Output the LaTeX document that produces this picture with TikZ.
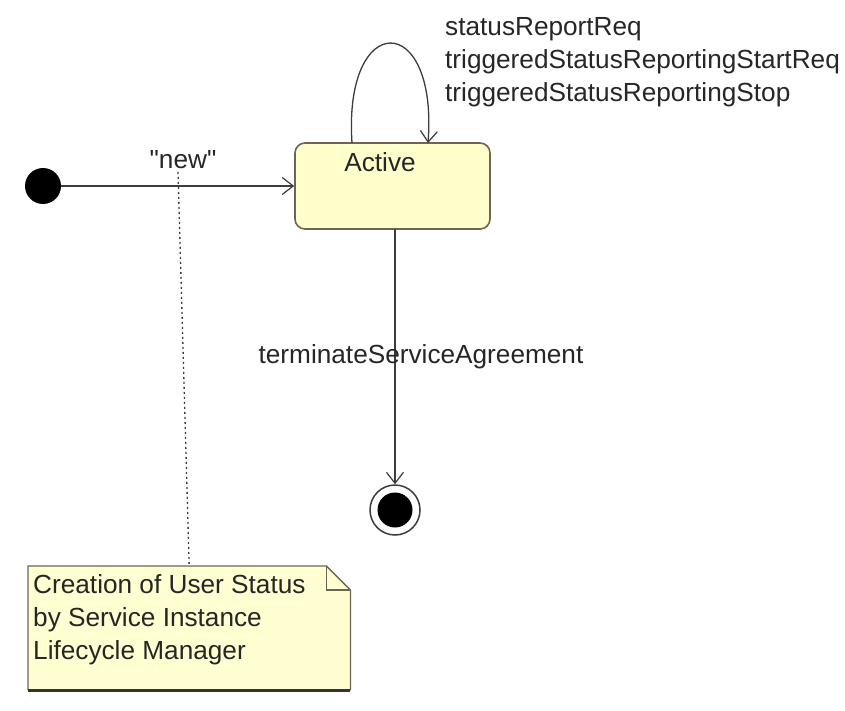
\documentclass[tikz,border=0pt]{standalone}
\usepackage{fontspec}
\setmainfont{Liberation Sans}[Ligatures=TeXOff]
\usetikzlibrary{arrows.meta}
\definecolor{stfill}{HTML}{FFFFCC}
\definecolor{stline}{HTML}{6E6456}
\definecolor{ln}{HTML}{3C3C3C}
\definecolor{notefill}{HTML}{FFFFD2}
\tikzset{
  lbl/.style={font=\fontsize{26.2}{33}\selectfont, text=black!85, inner sep=0pt},
  conn/.style={draw=ln, line width=1.3pt, -{Straight Barb[length=11pt,width=17pt,line width=1.2pt]}},
  statebox/.style={draw=stline, line width=1.6pt, fill=stfill, rounded corners=10pt, minimum width=195pt, minimum height=86pt, inner sep=0pt},
  initdot/.style={circle, fill=black, minimum size=36pt, inner sep=0pt},
}
\begin{document}
\begin{tikzpicture}[x=1pt,y=-1pt]
\useasboundingbox (0,0) rectangle (845,711);
% states
\node[initdot] (init) at (43,186) {};
\node[statebox] (active) at (392.5,186) {};
\node[lbl] (activelbl) at (380,162) {Active};
\node[circle, draw=ln, line width=1.5pt, fill=white, minimum size=50pt, inner sep=0pt] (final) at (395,510) {};
\node[circle, fill=black, minimum size=35pt, inner sep=0pt] (finalin) at (final.center) {};
% transitions
\draw[conn] (init) -- (active.west);
\node[lbl] (newlbl) at (183,160) {"new"};
\coordinate (loopa) at (352,143);
\coordinate (loopb) at (428,143);
\draw[conn] (loopa) .. controls (343,10) and (438,10) .. (loopb);
\node[lbl, anchor=north west, align=left] (looplbl) at (445,17) {statusReportReq\\triggeredStatusReportingStartReq\\triggeredStatusReportingStop};
\coordinate (actbot) at (395,229);
\draw[conn] (actbot) -- (final.north);
\node[lbl] (termlbl) at (421,357) {terminateServiceAgreement};
% note
\node[minimum width=322pt, minimum height=124pt, inner sep=0pt, anchor=north west] (note) at (28,566) {};
\fill[notefill] (note.north west) -- ([xshift=-24pt]note.north east) -- ([yshift=-24pt]note.north east) -- (note.south east) -- (note.south west) -- cycle;
\draw[stline, line width=1.3pt] (note.south east) -- ([yshift=-24pt]note.north east) -- ([xshift=-24pt]note.north east) -- (note.north west) -- (note.south west);
\draw[stline, line width=1.3pt] ([xshift=-24pt]note.north east) -- ([xshift=-24pt,yshift=-24pt]note.north east) -- ([yshift=-24pt]note.north east);
\draw[black!80, line width=2.4pt] (note.south west) -- (note.south east);
\node[lbl, anchor=north west, align=left] (notetext) at (33,574) {Creation of User Status\\by Service Instance\\Lifecycle Manager};
\coordinate (anchorpt) at (178,172);
\draw[ln, line width=1.3pt, dash pattern=on 2pt off 3pt] (anchorpt) -- (note.north);
\end{tikzpicture}
\end{document}
